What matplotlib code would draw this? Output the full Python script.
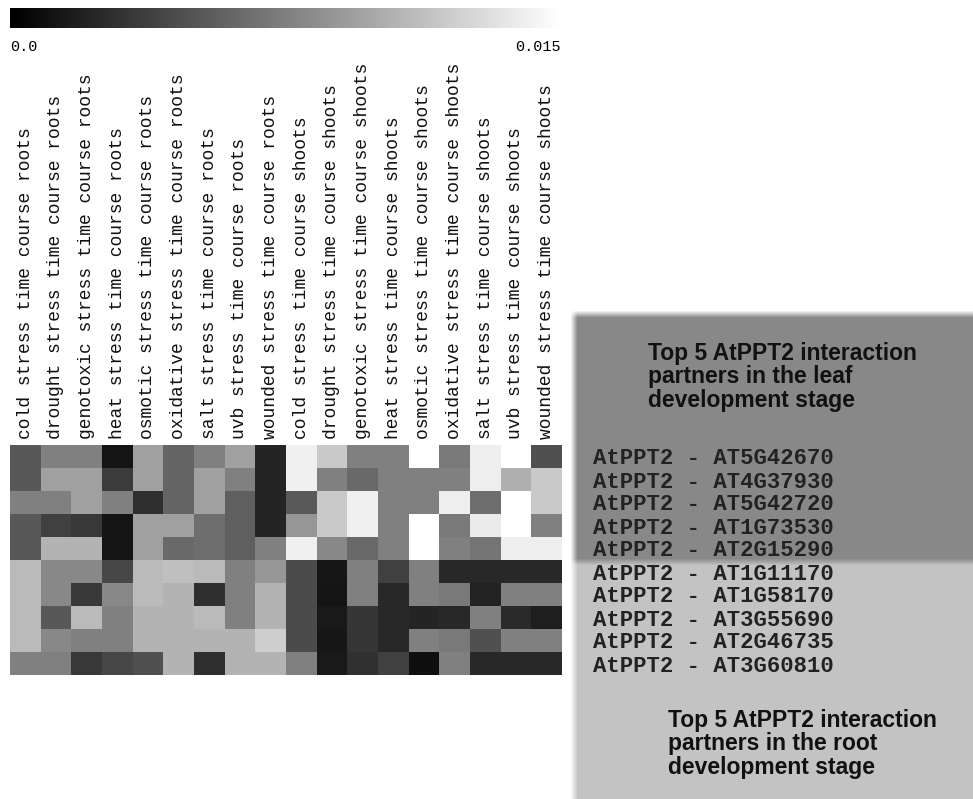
import numpy as np
import matplotlib
matplotlib.use("Agg")
import matplotlib.pyplot as plt
from matplotlib.colors import Normalize

# condition columns (roots then shoots)
conditions = [
    "cold stress time course roots",
    "drought stress time course roots",
    "genotoxic stress time course roots",
    "heat stress time course roots",
    "osmotic stress time course roots",
    "oxidative stress time course roots",
    "salt stress time course roots",
    "uvb stress time course roots",
    "wounded stress time course roots",
    "cold stress time course shoots",
    "drought stress time course shoots",
    "genotoxic stress time course shoots",
    "heat stress time course shoots",
    "osmotic stress time course shoots",
    "oxidative stress time course shoots",
    "salt stress time course shoots",
    "uvb stress time course shoots",
    "wounded stress time course shoots",
]

leaf_partners = ["AT5G42670", "AT4G37930", "AT5G42720", "AT1G73530", "AT2G15290"]
root_partners = ["AT1G11170", "AT1G58170", "AT3G55690", "AT2G46735", "AT3G60810"]

# scores in units of 1e-3
leaf_scores = [
    [5.2, 7.5, 7.5, 1.2, 9.4, 5.9, 7.5, 9.4, 2.2, 14.1, 11.8, 7.5, 7.5, 15.0, 7.1, 14.0, 15.0, 4.7],
    [5.2, 9.4, 9.4, 3.5, 9.4, 5.9, 9.4, 7.5, 2.2, 14.1, 7.5, 6.2, 7.5, 7.5, 7.5, 14.0, 10.3, 11.8],
    [7.5, 7.5, 9.4, 7.5, 2.8, 5.9, 9.4, 5.6, 2.2, 5.3, 11.8, 14.1, 7.5, 7.5, 14.0, 6.5, 15.0, 11.8],
    [5.2, 3.8, 3.3, 1.2, 9.4, 9.4, 6.5, 5.6, 2.2, 8.8, 11.8, 14.1, 7.5, 15.0, 7.1, 13.8, 15.0, 7.5],
    [5.2, 10.6, 10.6, 1.2, 9.4, 6.2, 6.5, 5.6, 7.5, 14.1, 8.0, 6.2, 7.5, 15.0, 7.5, 6.8, 14.0, 14.0],
]
root_scores = [
    [10.9, 8.0, 8.0, 4.2, 10.9, 11.2, 10.9, 7.5, 8.8, 4.4, 1.3, 7.5, 3.8, 7.5, 2.4, 2.4, 2.4, 2.4],
    [10.9, 8.0, 3.3, 8.0, 10.9, 10.6, 2.8, 7.5, 10.6, 4.4, 1.2, 7.5, 2.4, 7.5, 7.1, 2.1, 7.5, 7.5],
    [10.9, 5.2, 10.9, 7.5, 10.6, 10.6, 10.9, 7.5, 10.6, 4.4, 1.5, 3.2, 2.4, 2.2, 2.4, 7.5, 2.5, 1.8],
    [10.9, 8.0, 7.5, 7.5, 10.6, 10.6, 10.6, 10.6, 12.1, 4.4, 1.3, 3.2, 2.4, 7.5, 7.1, 4.7, 7.5, 7.5],
    [7.5, 7.5, 3.3, 4.2, 4.7, 10.6, 2.8, 10.6, 10.6, 7.5, 1.5, 2.9, 3.8, 0.9, 7.5, 2.4, 2.4, 2.4],
]

vmin, vmax = 0.0, 0.015

W, H = 973, 799
fig = plt.figure(figsize=(W / 100, H / 100), dpi=100)
fig.patch.set_facecolor("white")


def px_axes(x0, y0, x1, y1, **kw):
    """axes from pixel box (top-left origin)"""
    return fig.add_axes([x0 / W, 1 - y1 / H, (x1 - x0) / W, (y1 - y0) / H], **kw)


mono = "Liberation Mono"
sans = "Liberation Sans"
norm = Normalize(vmin=vmin, vmax=vmax)

# --- soft grey panels behind the partner list ---
bx0, by0, bx1, by1 = 560, 300, 973, 799
panel = np.full((by1 - by0, bx1 - bx0), 255.0)
panel[314 - by0:562 - by0, 574 - bx0:] = 136
panel[562 - by0:, 574 - bx0:] = 196
k = 7
pad = np.pad(panel, ((k, k), (k, k)), mode="edge")
kern = np.ones(k) / k
pad = np.apply_along_axis(lambda r: np.convolve(r, kern, mode="same"), 1, pad)
pad = np.apply_along_axis(lambda c: np.convolve(c, kern, mode="same"), 0, pad)
panel = pad[k:-k, k:-k]
ax_bg = px_axes(bx0, by0, bx1, by1)
ax_bg.imshow(panel, cmap="gray", vmin=0, vmax=255, aspect="auto", interpolation="bilinear")
ax_bg.axis("off")

head_kw = dict(fontfamily=sans, fontweight="bold", fontsize=16.5, color="#111111",
               ha="left", va="top", linespacing=1.05)
ax_bg.text(648 - bx0, 341 - by0, "Top 5 AtPPT2 interaction\npartners in the leaf\ndevelopment stage",
           **head_kw)
ax_bg.text(667 - bx0, 708 - by0, "Top 5 AtPPT2 interaction\npartners in the root\ndevelopment stage",
           **head_kw)

# --- heatmap ---
scores = np.array(leaf_scores + root_scores) * 1e-3
partners = leaf_partners + root_partners

ax = px_axes(10, 445, 562, 675)
ax.imshow(scores, cmap="gray", norm=norm, aspect="auto", interpolation="nearest")
ax.set_xticks(range(len(conditions)))
ax.set_xticklabels(conditions, rotation=90, fontfamily=mono, fontsize=13, color="#111111")
ax.xaxis.tick_top()
ax.set_yticks(range(len(partners)))
ax.set_yticklabels(["AtPPT2 - " + p for p in partners], fontfamily=mono,
                   fontweight="bold", fontsize=16, color="#222222")
ax.yaxis.tick_right()
ax.tick_params(length=0)
ax.tick_params(axis="x", pad=4)
ax.tick_params(axis="y", pad=22)
for s in ax.spines.values():
    s.set_visible(False)

# --- colour scale ---
cax = px_axes(10, 8, 560, 28)
grad = np.linspace(vmin, vmax, 256)[None, :]
cax.imshow(grad, cmap="gray", norm=norm, aspect="auto",
           extent=[vmin, vmax, 0, 1])
cax.set_xticks([])
cax.set_yticks([])
for s in cax.spines.values():
    s.set_visible(False)
fig.text(10 / W, 1 - 47 / H, "0.0", fontfamily=mono, fontsize=11, ha="left", va="center")
fig.text(561 / W, 1 - 47 / H, "0.015", fontfamily=mono, fontsize=11, ha="right", va="center")

fig.savefig("out.png", dpi=100)
